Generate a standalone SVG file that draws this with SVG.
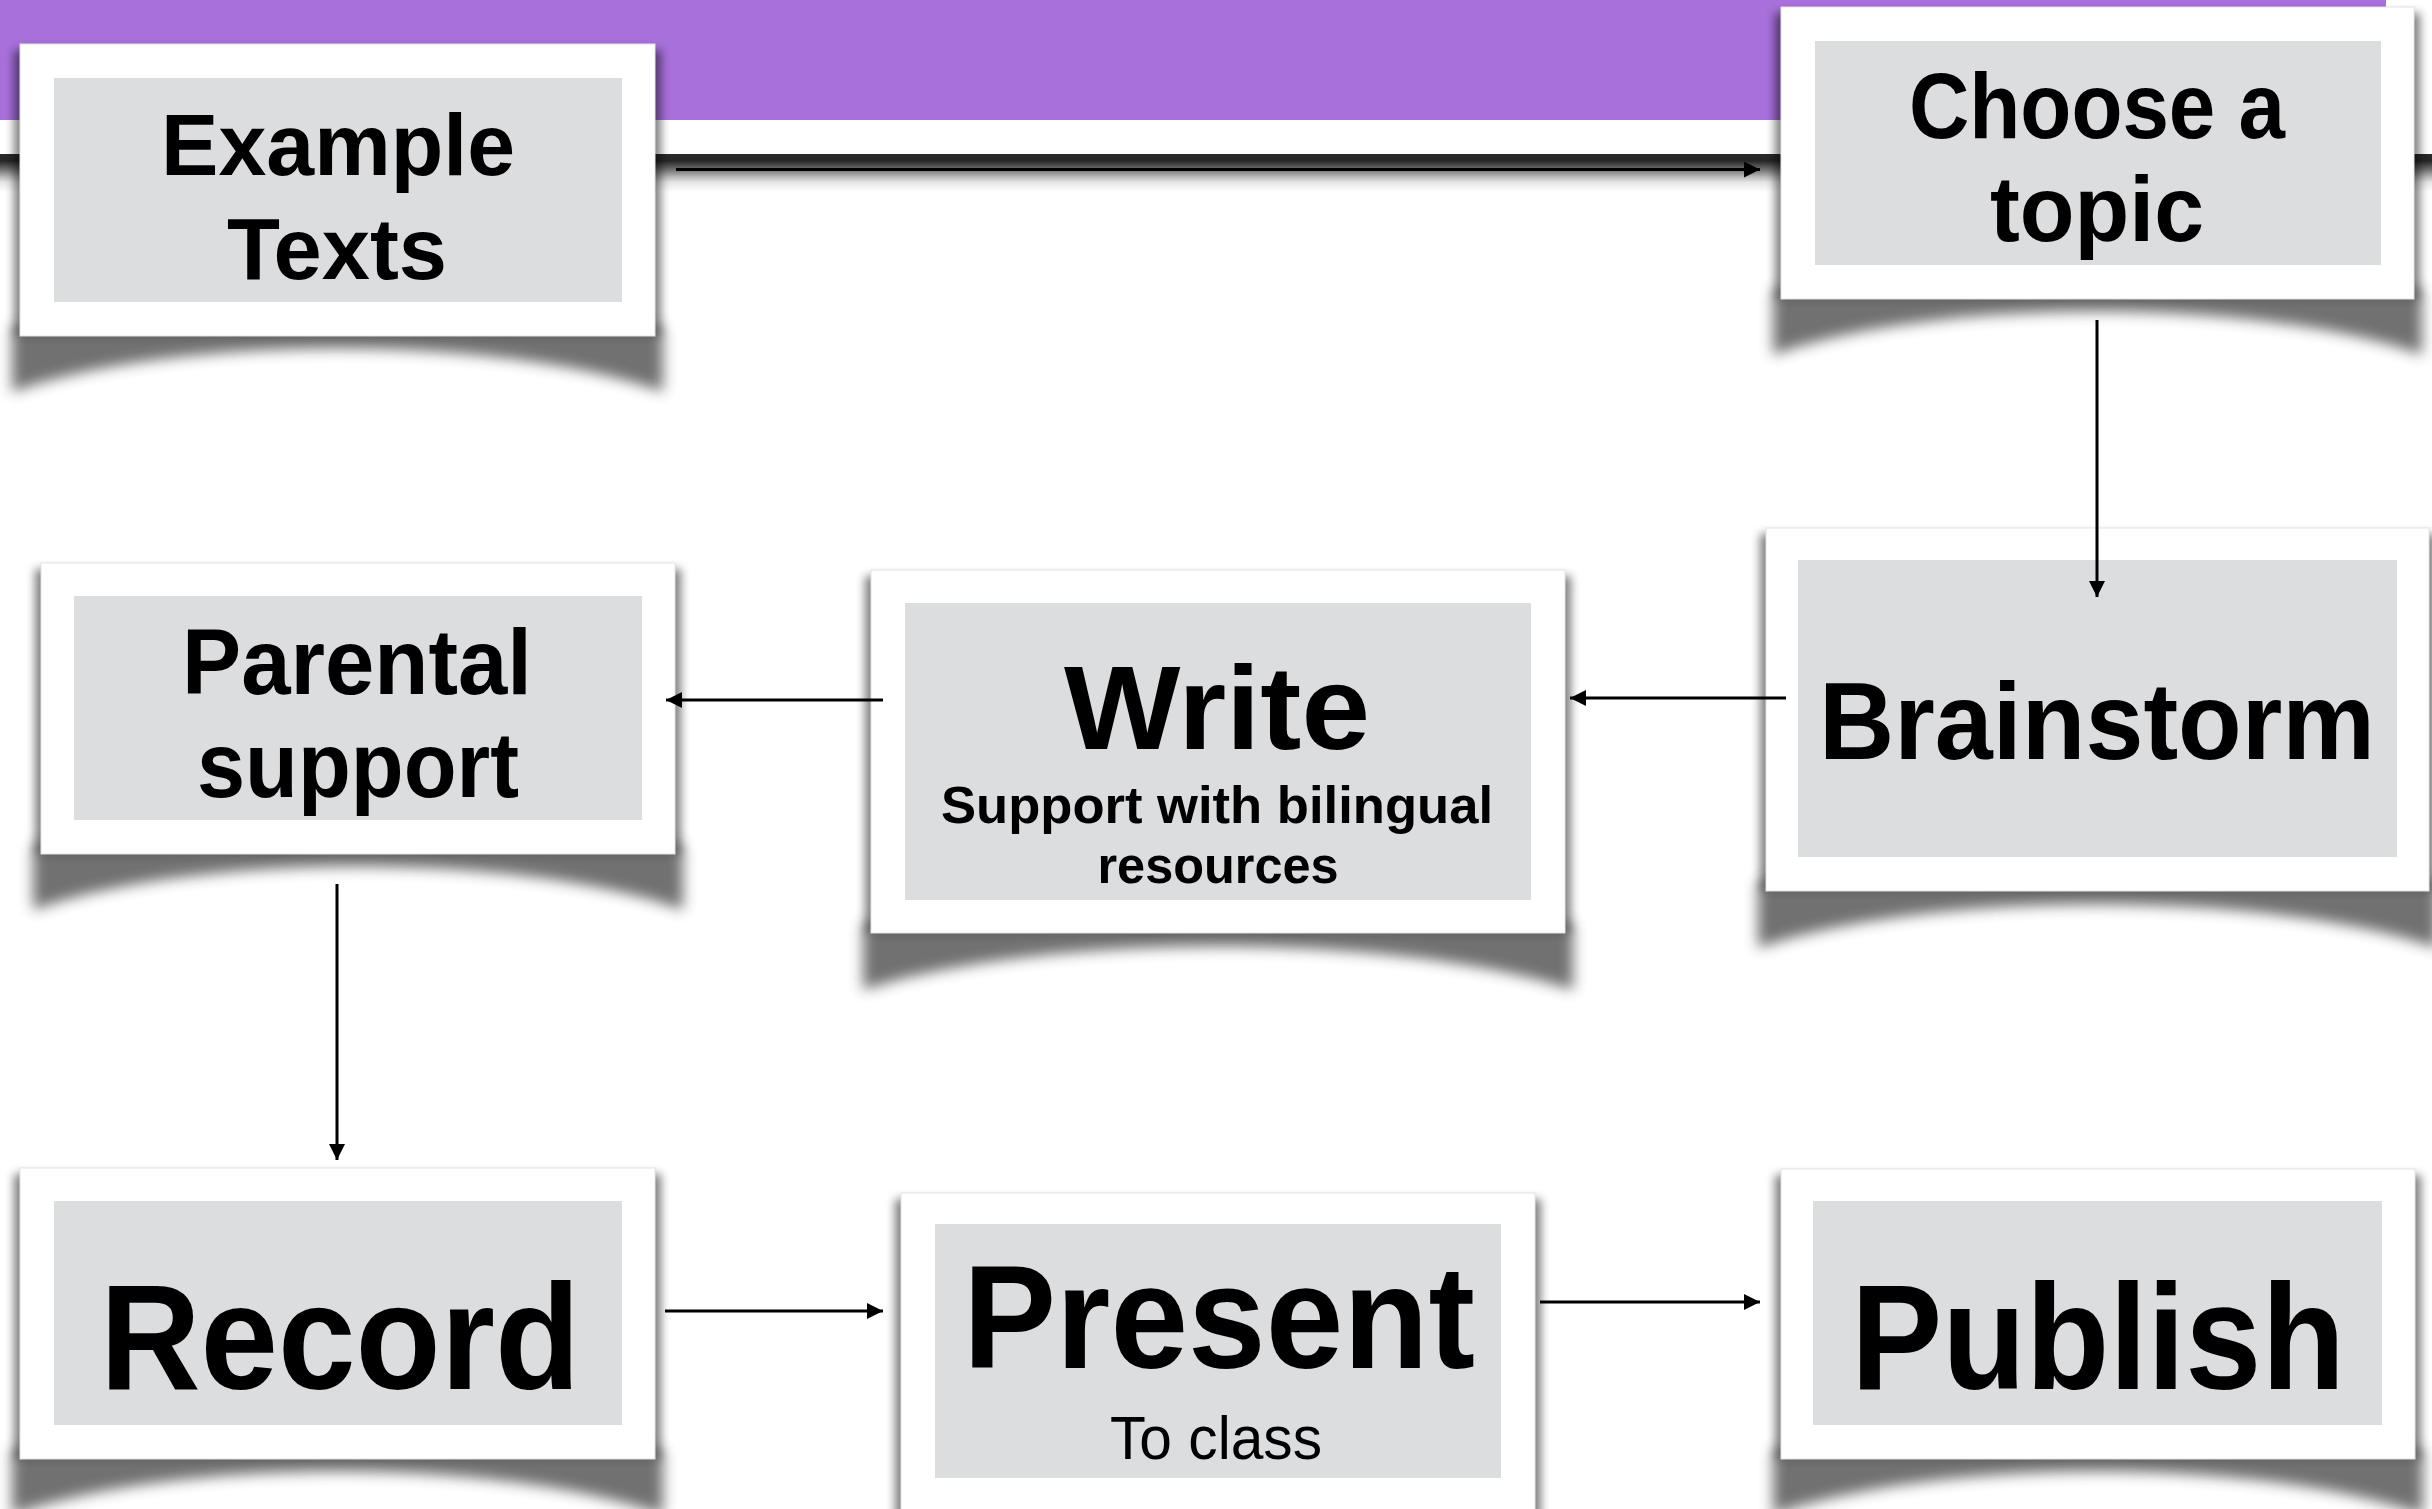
<svg xmlns="http://www.w3.org/2000/svg" width="2432" height="1509" viewBox="0 0 2432 1509">
<defs>
<style>
.outer{fill:#ffffff;stroke:#e4e4e4;stroke-width:1}
.inner{fill:#dcdddf}
.t{font-family:"Liberation Sans",Arial,sans-serif;font-weight:700;fill:#000;text-anchor:middle}
.r{font-weight:400}
.side{fill:#000;opacity:0.5;filter:url(#blurS)}
.curl{fill:#3a3a3a;opacity:0.72;filter:url(#blurC)}
.conn{stroke:#000;stroke-width:3;fill:none;marker-end:url(#ah)}
</style>
<filter id="blurS" x="-10%" y="-10%" width="120%" height="120%"><feGaussianBlur stdDeviation="5"/></filter>
<filter id="blurC" x="-10%" y="-50%" width="120%" height="200%"><feGaussianBlur stdDeviation="7"/></filter>
<linearGradient id="bar" x1="0" y1="0" x2="0" y2="1">
<stop offset="0" stop-color="#2a2a2a"/>
<stop offset="0.18" stop-color="#262626"/>
<stop offset="0.4" stop-color="#6e6e6e"/>
<stop offset="0.6" stop-color="#b8b8b8"/>
<stop offset="0.75" stop-color="#e6e6e6"/>
<stop offset="1" stop-color="#ffffff"/>
</linearGradient>
<marker id="ah" markerUnits="userSpaceOnUse" markerWidth="18" markerHeight="16" refX="16" refY="8" orient="auto">
<path d="M0,0 L16,8 L0,16 Z" fill="#000"/>
</marker>
</defs>
<rect x="0" y="0" width="2432" height="1509" fill="#ffffff"/>
<rect x="0" y="0" width="2386" height="120" fill="#a770db"/>
<rect x="0" y="154" width="2432" height="38" fill="url(#bar)"/>

<g id="node-example-texts">
<rect class="side" x="14" y="50" width="647" height="286"/>
<path class="curl" d="M12,326 L663,326 L663,392 C500,334 175,334 12,392 Z"/>
<rect class="outer" x="20" y="44" width="635" height="292"/>
<rect class="inner" x="54" y="78" width="568" height="224"/>
<text class="t" x="338" y="175" font-size="88" textLength="354" lengthAdjust="spacingAndGlyphs">Example</text>
<text class="t" x="337" y="279" font-size="88" textLength="220" lengthAdjust="spacingAndGlyphs">Texts</text>
</g>

<g id="node-choose-topic">
<rect class="side" x="1775" y="13" width="645" height="286"/>
<path class="curl" d="M1773,289 L2422,289 L2422,355 C2260,297 1935,297 1773,355 Z"/>
<rect class="outer" x="1781" y="7" width="633" height="292"/>
<rect class="inner" x="1815" y="41" width="566" height="224"/>
<text class="t" x="2097" y="138" font-size="92" textLength="376" lengthAdjust="spacingAndGlyphs">Choose a</text>
<text class="t" x="2097" y="241" font-size="92" textLength="214" lengthAdjust="spacingAndGlyphs">topic</text>
</g>

<g id="node-parental-support">
<rect class="side" x="35" y="569" width="646" height="285"/>
<path class="curl" d="M33,844 L683,844 L683,910 C520,852 196,852 33,910 Z"/>
<rect class="outer" x="41" y="563" width="634" height="291"/>
<rect class="inner" x="74" y="596" width="568" height="224"/>
<text class="t" x="357" y="694" font-size="92" textLength="350" lengthAdjust="spacingAndGlyphs">Parental</text>
<text class="t" x="358" y="797" font-size="92" textLength="322" lengthAdjust="spacingAndGlyphs">support</text>
</g>

<g id="node-write">
<rect class="side" x="865" y="576" width="706" height="357"/>
<path class="curl" d="M863,923 L1573,923 L1573,990 C1395,932 1041,932 863,990 Z"/>
<rect class="outer" x="871" y="570" width="694" height="363"/>
<rect class="inner" x="905" y="603" width="626" height="297"/>
<text class="t" x="1217" y="749" font-size="118" textLength="306" lengthAdjust="spacingAndGlyphs">Write</text>
<text class="t" x="1217" y="823" font-size="52" textLength="552" lengthAdjust="spacingAndGlyphs">Support with bilingual</text>
<text class="t" x="1218" y="883" font-size="52" textLength="241" lengthAdjust="spacingAndGlyphs">resources</text>
</g>

<g id="node-brainstorm">
<rect class="side" x="1760" y="534" width="675" height="357"/>
<path class="curl" d="M1758,881 L2437,881 L2437,948 C2267,890 1928,890 1758,948 Z"/>
<rect class="outer" x="1766" y="528" width="663" height="363"/>
<rect class="inner" x="1798" y="560" width="599" height="297"/>
<text class="t" x="2097" y="759" font-size="110" textLength="556" lengthAdjust="spacingAndGlyphs">Brainstorm</text>
</g>

<g id="node-record">
<rect class="side" x="14" y="1174" width="647" height="285"/>
<path class="curl" d="M12,1449 L663,1449 L663,1515 C500,1457 175,1457 12,1515 Z"/>
<rect class="outer" x="20" y="1168" width="635" height="291"/>
<rect class="inner" x="54" y="1201" width="568" height="224"/>
<text class="t" x="340" y="1389" font-size="151" textLength="480" lengthAdjust="spacingAndGlyphs">Record</text>
</g>

<g id="node-present">
<rect class="side" x="895" y="1199" width="646" height="330"/>
<rect class="outer" x="901" y="1193" width="634" height="340"/>
<rect class="inner" x="935" y="1224" width="566" height="254"/>
<text class="t" x="1219" y="1368" font-size="147" textLength="512" lengthAdjust="spacingAndGlyphs">Present</text>
<text class="t r" x="1216" y="1459" font-size="62" textLength="212" lengthAdjust="spacingAndGlyphs">To class</text>
</g>

<g id="node-publish">
<rect class="side" x="1775" y="1175" width="646" height="284"/>
<path class="curl" d="M1773,1449 L2423,1449 L2423,1515 C2260,1457 1936,1457 1773,1515 Z"/>
<rect class="outer" x="1781" y="1169" width="634" height="290"/>
<rect class="inner" x="1813" y="1201" width="569" height="224"/>
<text class="t" x="2098" y="1389" font-size="151" textLength="494" lengthAdjust="spacingAndGlyphs">Publish</text>
</g>

<g id="connectors">
<line class="conn" x1="676" y1="169.5" x2="1760" y2="169.5" stroke-width="5"/>
<line class="conn" x1="2097" y1="320" x2="2097" y2="597"/>
<line class="conn" x1="1786" y1="698" x2="1570" y2="698"/>
<line class="conn" x1="883" y1="700" x2="666" y2="700"/>
<line class="conn" x1="337" y1="884" x2="337" y2="1160"/>
<line class="conn" x1="665" y1="1311" x2="883" y2="1311"/>
<line class="conn" x1="1540" y1="1302" x2="1760" y2="1302"/>
</g>
</svg>
